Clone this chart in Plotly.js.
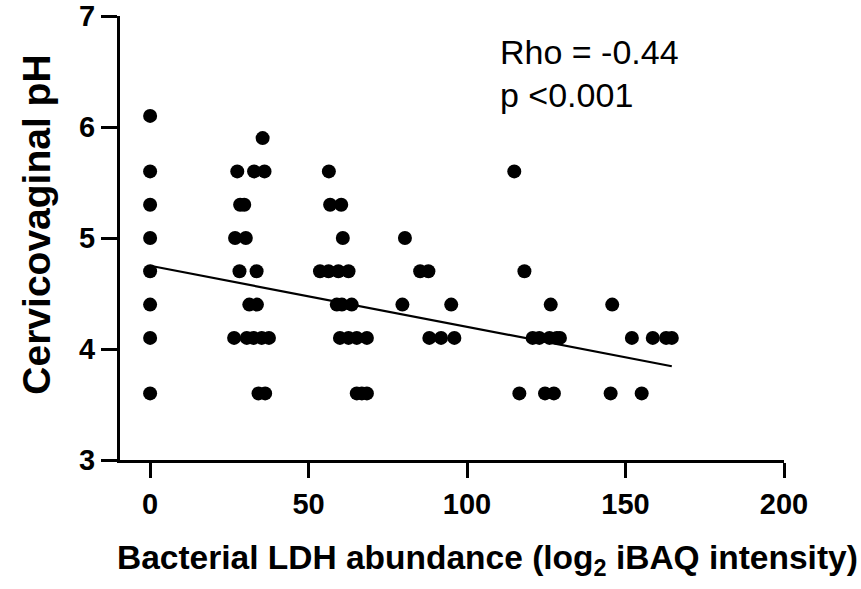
<!DOCTYPE html>
<html>
<head>
<meta charset="utf-8">
<script src="https://cdn.plot.ly/plotly-3.0.1.min.js"></script>
<style>html,body{margin:0;padding:0;background:#fff;}#chart{width:861px;height:589px;}</style>
</head>
<body>
<div id="chart"></div>
<script>
// LDH abundance (x) and cervicovaginal pH (y)
const ldhAbundance = [
  0, 0, 0, 0, 0, 0, 0, 0,
  35.5,
  27.5, 32.8, 36.1, 56.4, 114.9,
  28.4, 29.7, 56.8, 60.3,
  26.8, 30.2, 60.8, 80.4,
  28.2, 33.6, 53.6, 56.3, 59.4, 62.6, 85.2, 87.8, 118.1,
  31.3, 33.7, 58.9, 60.5, 63.6, 79.6, 95.0, 126.4, 145.8,
  26.5, 30.5, 32.6, 35.2, 37.5, 59.9, 62.6, 65.2, 68.4, 88.1, 91.8, 96.0,
  120.7, 122.8, 126.0, 128.3, 129.3, 152.0, 158.6, 162.8, 164.6,
  34.2, 36.3, 65.2, 66.8, 68.4, 116.5, 124.6, 127.4, 145.3, 155.1
];
const cervicoPH = [
  6.1, 5.6, 5.3, 5.0, 4.7, 4.4, 4.1, 3.6,
  5.9,
  5.6, 5.6, 5.6, 5.6, 5.6,
  5.3, 5.3, 5.3, 5.3,
  5.0, 5.0, 5.0, 5.0,
  4.7, 4.7, 4.7, 4.7, 4.7, 4.7, 4.7, 4.7, 4.7,
  4.4, 4.4, 4.4, 4.4, 4.4, 4.4, 4.4, 4.4, 4.4,
  4.1, 4.1, 4.1, 4.1, 4.1, 4.1, 4.1, 4.1, 4.1, 4.1, 4.1, 4.1,
  4.1, 4.1, 4.1, 4.1, 4.1, 4.1, 4.1, 4.1, 4.1,
  3.6, 3.6, 3.6, 3.6, 3.6, 3.6, 3.6, 3.6, 3.6, 3.6
];
// fitted line
const fitIntercept = 4.75;
const fitSlope = -0.0055;
const xTicks = [0, 50, 100, 150, 200];
const yTicks = [3, 4, 5, 6, 7];
const statLines = ["Rho = -0.44", "p <0.001"];

const xMin = Math.min(...ldhAbundance), xMax = Math.max(...ldhAbundance);
const fitX = [xMin, xMax];
const fitY = fitX.map(v => fitIntercept + fitSlope * v);

const font = "Liberation Sans, Arial, sans-serif";
const data = [
  {x: ldhAbundance, y: cervicoPH, type: 'scatter', mode: 'markers',
   marker: {color: '#000', size: 14}, hoverinfo: 'skip', cliponaxis: false},
  {x: fitX, y: fitY, type: 'scatter', mode: 'lines',
   line: {color: '#000', width: 2.2}, hoverinfo: 'skip'}
];
const layout = {
  width: 861, height: 589,
  margin: {l: 120, r: 77, t: 16, b: 129},
  paper_bgcolor: '#fff', plot_bgcolor: '#fff',
  showlegend: false,
  font: {family: font, color: '#000'},
  xaxis: {range: [-9.5, 200], tickvals: xTicks, ticktext: xTicks.map(v => '<b>' + v + '</b>'),
    ticks: 'outside', ticklen: 15, tickwidth: 3, tickcolor: '#000', ticklabelstandoff: 1,
    showline: true, linewidth: 3, linecolor: '#000', showgrid: false, zeroline: false,
    tickfont: {family: font, size: 29, color: '#000', weight: 700}},
  yaxis: {range: [3, 7], tickvals: yTicks, ticktext: yTicks.map(v => '<b>' + v + '</b>'),
    ticks: 'outside', ticklen: 16, tickwidth: 3, tickcolor: '#000', ticklabelstandoff: 0,
    showline: true, linewidth: 3, linecolor: '#000', showgrid: false, zeroline: false,
    tickfont: {family: font, size: 29, color: '#000', weight: 700}},
  annotations: [
    {text: '<b>Bacterial LDH abundance (log<sub>2</sub> iBAQ intensity)</b>', xref: 'paper', yref: 'paper',
     x: 0.554, y: -0.225, xanchor: 'center', yanchor: 'middle', showarrow: false,
     font: {family: font, size: 33.5, color: '#000'}},
    {text: '<b>Cervicovaginal pH</b>', xref: 'paper', yref: 'paper', textangle: -90,
     x: -0.125, y: 0.53, xanchor: 'center', yanchor: 'middle', showarrow: false,
     font: {family: font, size: 39, color: '#000'}},
    {text: statLines[0], xref: 'paper', yref: 'paper', x: 0.569, y: 0.92,
     xanchor: 'left', yanchor: 'middle', showarrow: false,
     font: {family: font, size: 34, color: '#000'}},
    {text: statLines[1], xref: 'paper', yref: 'paper', x: 0.569, y: 0.822,
     xanchor: 'left', yanchor: 'middle', showarrow: false,
     font: {family: font, size: 34, color: '#000'}}
  ]
};
Plotly.newPlot('chart', data, layout, {staticPlot: true, displayModeBar: false});
</script>
</body>
</html>
